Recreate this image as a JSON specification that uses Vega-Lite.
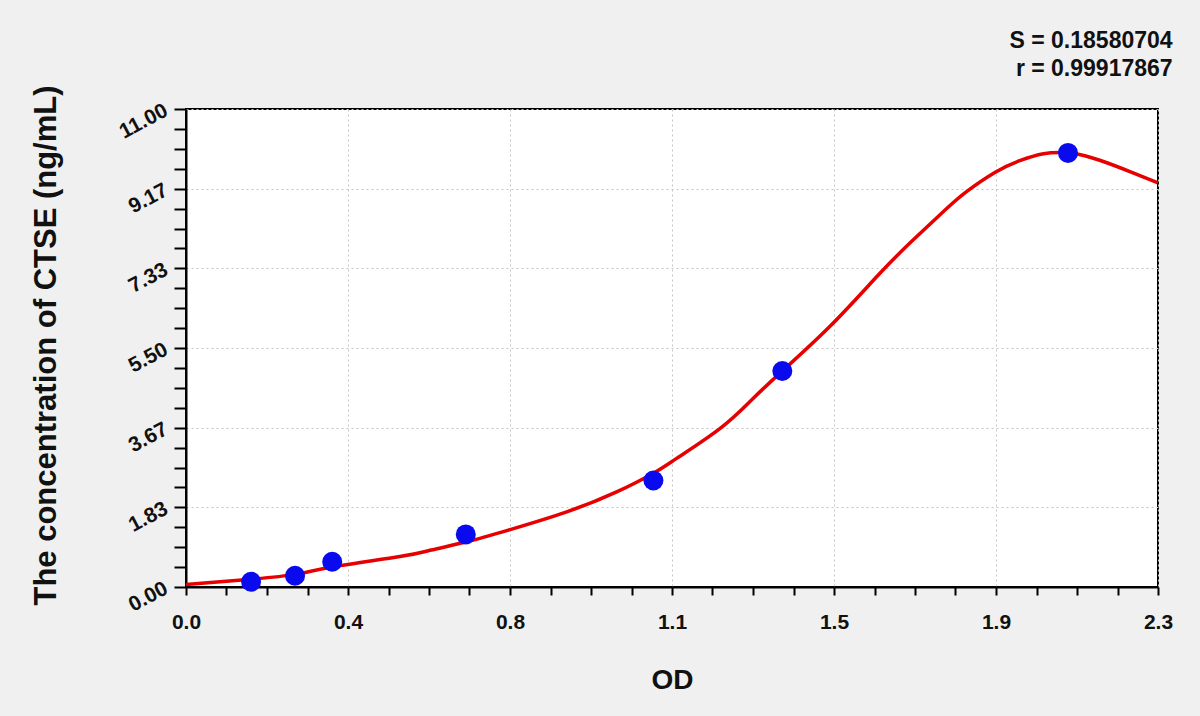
{
  "$schema": "https://vega.github.io/schema/vega-lite/v6.json",
  "autosize": "none",
  "width": 972,
  "height": 478,
  "padding": {"left": 186, "top": 109, "right": 42, "bottom": 129},
  "background": "#F0F0F0",
  "config": {
    "font": "Liberation Sans",
    "view": {"fill": "#FFFFFF", "stroke": "#000000", "strokeWidth": 2},
    "axis": {
      "domainColor": "#000000",
      "domainWidth": 2,
      "tickColor": "#000000",
      "tickWidth": 2,
      "labelFont": "Liberation Sans",
      "labelFontWeight": "bold",
      "labelFontSize": 21,
      "labelColor": "#111111",
      "labelFlush": false,
      "labelOverlap": false,
      "titleFont": "Liberation Sans",
      "titleFontWeight": "bold",
      "titleColor": "#111111",
      "gridColor": "#C4C4C4",
      "gridWidth": 1,
      "gridDash": [2, 3]
    }
  },
  "title": {
    "text": ["S = 0.18580704", "r = 0.99917867"],
    "anchor": "end",
    "font": "Liberation Sans",
    "fontWeight": "bold",
    "fontSize": 23,
    "color": "#111111",
    "lineHeight": 28,
    "offset": 4
  },
  "datasets": {
    "curve": [
      {"od": 0.0, "conc": 0.06},
      {"od": 0.154, "conc": 0.18},
      {"od": 0.258, "conc": 0.29},
      {"od": 0.346, "conc": 0.46},
      {"od": 0.506, "conc": 0.7},
      {"od": 0.58, "conc": 0.85},
      {"od": 0.664, "conc": 1.04},
      {"od": 0.763, "conc": 1.31},
      {"od": 0.901, "conc": 1.73},
      {"od": 1.019, "conc": 2.19},
      {"od": 1.106, "conc": 2.62},
      {"od": 1.161, "conc": 2.96},
      {"od": 1.264, "conc": 3.65},
      {"od": 1.34, "conc": 4.32},
      {"od": 1.421, "conc": 5.06},
      {"od": 1.531, "conc": 6.07},
      {"od": 1.642, "conc": 7.22},
      {"od": 1.721, "conc": 7.99},
      {"od": 1.8, "conc": 8.71},
      {"od": 1.847, "conc": 9.1},
      {"od": 1.914, "conc": 9.54},
      {"od": 1.973, "conc": 9.81},
      {"od": 2.029, "conc": 9.97},
      {"od": 2.07, "conc": 10.0},
      {"od": 2.1, "conc": 9.98},
      {"od": 2.162, "conc": 9.82},
      {"od": 2.241, "conc": 9.53},
      {"od": 2.3, "conc": 9.3}
    ],
    "points": [
      {"od": 0.154, "conc": 0.12},
      {"od": 0.258, "conc": 0.26},
      {"od": 0.346, "conc": 0.58},
      {"od": 0.662, "conc": 1.21},
      {"od": 1.106, "conc": 2.45},
      {"od": 1.411, "conc": 4.97},
      {"od": 2.087, "conc": 9.99}
    ]
  },
  "encoding": {
    "x": {
      "field": "od",
      "type": "quantitative",
      "scale": {"domain": [0, 2.3], "nice": false, "zero": false},
      "axis": {
        "title": "OD",
        "titleFontSize": 28,
        "titleX": 486,
        "titleY": 93,
        "titleBaseline": "middle",
        "titleAlign": "center",
        "tickSize": 8,
        "labelPadding": 16,
        "values": [0, 0.0958333333, 0.1916666667, 0.2875, 0.3833333333, 0.4791666667, 0.575, 0.6708333333, 0.7666666667, 0.8625, 0.9583333333, 1.0541666667, 1.15, 1.2458333333, 1.3416666667, 1.4375, 1.5333333333, 1.6291666667, 1.725, 1.8208333333, 1.9166666667, 2.0125, 2.1083333333, 2.2041666667, 2.3],
        "labelExpr": "round(datum.value / 2.3 * 24) % 4 == 0 ? format(datum.value, '.1f') : ''",
        "gridOpacity": {"condition": {"test": "round(datum.value / 2.3 * 24) % 4 == 0", "value": 1}, "value": 0}
      }
    },
    "y": {
      "field": "conc",
      "type": "quantitative",
      "scale": {"domain": [0, 11], "nice": false, "zero": false},
      "axis": {
        "title": "The concentration of CTSE (ng/mL)",
        "titleFontSize": 31,
        "titleAngle": -90,
        "titleX": -140,
        "titleY": 236,
        "titleBaseline": "middle",
        "titleAlign": "center",
        "tickSize": 12,
        "labelPadding": 8,
        "labelAngle": -28,
        "labelAlign": "right",
        "labelBaseline": "middle",
        "values": [0, 0.4583333333, 0.9166666667, 1.375, 1.8333333333, 2.2916666667, 2.75, 3.2083333333, 3.6666666667, 4.125, 4.5833333333, 5.0416666667, 5.5, 5.9583333333, 6.4166666667, 6.875, 7.3333333333, 7.7916666667, 8.25, 8.7083333333, 9.1666666667, 9.625, 10.0833333333, 10.5416666667, 11],
        "labelExpr": "round(datum.value / 11 * 24) % 4 == 0 ? format(datum.value, '.2f') : ''",
        "gridOpacity": {"condition": {"test": "round(datum.value / 11 * 24) % 4 == 0", "value": 1}, "value": 0}
      }
    }
  },
  "layer": [
    {
      "data": {"name": "curve"},
      "mark": {"type": "line", "color": "#E60000", "strokeWidth": 3.5, "interpolate": "natural", "clip": true}
    },
    {
      "data": {"name": "points"},
      "mark": {"type": "circle", "color": "#0A0AEE", "opacity": 1, "size": 400}
    }
  ]
}
